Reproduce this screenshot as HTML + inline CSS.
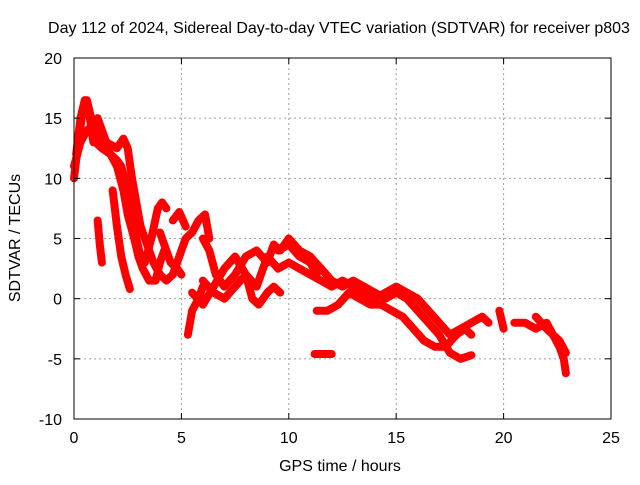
<!DOCTYPE html>
<html><head><meta charset="utf-8"><style>
body{margin:0;background:#fff;}
svg text{font-family:"Liberation Sans",sans-serif;font-size:16px;fill:#000;}
</style></head><body>
<svg id="chart" width="640" height="480" xmlns="http://www.w3.org/2000/svg">
<rect width="640" height="480" fill="#fff"/>
<g id="grid"></g><g id="series"></g><g id="axes"></g>
</svg>
<script>
const xTicks=[0,5,10,15,20,25];
const yTicks=[-10,-5,0,5,10,15,20];
const tracks=[
[[0,10],[0.2,13],[0.4,15.5],[0.6,16.5],[0.8,15],[1,13],[1.3,12.5],[1.7,12],[2,11],[2.3,9],[2.5,7],[2.8,5],[3,3.5],[3.2,2.5],[3.5,1.5],[3.8,1.5],[4,3],[4.2,4]],
[[0,11],[0.3,13],[0.6,14],[1,14.5],[1.3,13],[1.7,12],[2,11.5],[2.2,11],[2.5,9],[2.7,7],[2.9,5],[3.1,3.5],[3.3,3],[3.6,5],[3.9,7.5],[4.1,8],[4.3,7.5]],
[[0.1,12],[0.3,15],[0.5,16.5],[0.7,15.5],[0.9,13],[1.1,15],[1.5,13],[2,12.5],[2.3,13.3],[2.5,12.5],[2.7,10],[2.9,8],[3.1,6],[3.3,5],[3.5,4],[3.7,3],[4,2],[4.3,1.5],[4.6,2],[4.9,3.5],[5.2,5],[5.5,5.5],[5.8,6.5],[6.1,7],[6.3,5]],
[[1.1,6.5],[1.2,4.5],[1.3,3]],
[[1.8,9],[2,6],[2.2,3.5],[2.4,2],[2.6,0.8]],
[[4.6,6.5],[4.9,7.2],[5.2,6]],
[[4,5.5],[4.3,4],[4.5,3],[4.8,2.5],[5,2]],
[[5.3,-3],[5.5,-1],[5.8,0],[6,1]],
[[6,5],[6.3,4],[6.6,2],[7,1],[7.5,2],[8,3.5],[8.5,4],[9,3],[9.3,4.5],[9.6,4],[10,5],[10.5,4],[11,3.5],[11.5,2.5],[12,1.5],[12.5,1],[13,1.5],[13.5,1],[14,0.5],[14.5,0],[15,0.5],[15.5,0],[16,-1],[16.5,-2],[17,-3],[17.5,-4.5],[18,-5],[18.5,-4.7]],
[[6,1.5],[6.5,0.5],[7,0],[7.5,1],[8,2],[8.5,1],[9,3.5],[9.5,2.5],[10,3],[10.5,2.5],[11,2],[11.5,1.5],[12,1],[12.5,1.5],[13,1],[13.5,0.5],[14,0],[14.5,0.5],[15,1],[15.5,0.5],[16,0],[16.5,-1],[17,-2],[17.5,-3],[18,-2.5],[18.5,-2],[19,-1.5],[19.3,-2]],
[[5.5,0.5],[6,-0.5],[6.5,1],[7,2.5],[7.5,3.5],[8,2],[8.3,0],[8.6,-0.5],[9,0.5],[9.3,1],[9.6,0.5]],
[[9.5,4],[10,4.5],[10.5,3.5],[11,3],[11.3,2]],
[[11.3,-1],[11.8,-1],[12.3,-0.5],[12.8,0.5],[13.3,0],[13.8,-0.5],[14.3,-0.5],[14.8,-1],[15.3,-1.5],[15.8,-2.5],[16.3,-3.5],[16.8,-4],[17.3,-4],[17.8,-3],[18.2,-2.5],[18.5,-3]],
[[11.2,-4.6],[12,-4.6]],
[[19.8,-1],[20,-2.5]],
[[20.5,-2],[21,-2],[21.5,-2.5],[22,-2],[22.3,-3],[22.6,-3.5],[22.9,-4.5]],
[[21.5,-1.5],[22,-2.5],[22.3,-3],[22.6,-4],[22.8,-5],[22.9,-6.2]]
];
const NS="http://www.w3.org/2000/svg";
const L=74,R=611,T=58,B=419;
const sx=v=>L+(v-0)/25*(R-L);
const sy=v=>B-(v+10)/30*(B-T);
const grid=document.getElementById('grid'),ser=document.getElementById('series'),ax=document.getElementById('axes');
function mk(tag,attrs,parent){const e=document.createElementNS(NS,tag);for(const k in attrs)e.setAttribute(k,attrs[k]);parent.appendChild(e);return e;}
xTicks.forEach(t=>{
 const x=sx(t);
 if(t>0&&t<25){const g=mk('line',{x1:x,x2:x,y1:T,y2:B,stroke:'#a0a0a0','stroke-dasharray':'2,3'},grid);
 
 }
 mk('line',{x1:x,x2:x,y1:B,y2:B-6,stroke:'#000'},ax);
 mk('line',{x1:x,x2:x,y1:T,y2:T+6,stroke:'#000'},ax);
 const tx=mk('text',{x:x,y:B+24,'text-anchor':'middle'},ax);tx.textContent=t;
 
 
});
yTicks.forEach(t=>{
 const y=sy(t);
 if(t>-10&&t<20){const g=mk('line',{x1:L,x2:R,y1:y,y2:y,stroke:'#a0a0a0','stroke-dasharray':'2,3'},grid);
 
 }
 mk('line',{x1:L,x2:L+6,y1:y,y2:y,stroke:'#000'},ax);
 mk('line',{x1:R,x2:R-6,y1:y,y2:y,stroke:'#000'},ax);
 const tx=mk('text',{x:L-12,y:y+6,'text-anchor':'end'},ax);tx.textContent=t;
 
 
});
const fr=mk('rect',{x:L,y:T,width:R-L,height:B-T,fill:'none',stroke:'#000'},ax);


tracks.forEach(tr=>{
 const p=mk('polyline',{points:tr.map(d=>sx(d[0])+','+sy(d[1])).join(' '),fill:'none',stroke:'#ff0000','stroke-width':8,'stroke-linejoin':'round','stroke-linecap':'round'},ser);
 
 
});
const title=mk('text',{x:339,y:33,'text-anchor':'middle'},ax);title.textContent='Day 112 of 2024, Sidereal Day-to-day VTEC variation (SDTVAR) for receiver p803';


const xl=mk('text',{x:340,y:471,'text-anchor':'middle'},ax);xl.textContent='GPS time / hours';


const yl=mk('text',{x:0,y:0,'text-anchor':'middle',transform:'translate(20,238) rotate(-90)'},ax);yl.textContent='SDTVAR / TECUs';


</script>
</body></html>
